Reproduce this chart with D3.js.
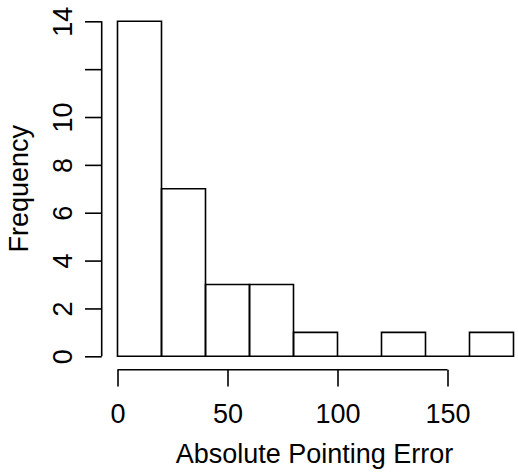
<!DOCTYPE html>
<html>
<head>
<meta charset="utf-8">
<script src="https://cdn.jsdelivr.net/npm/d3@7"></script>
<style>
  body { margin: 0; background: #fff; }
  svg text { font-family: "Liberation Sans", Arial, Helvetica, sans-serif; fill: #000; }
</style>
</head>
<body>
<div id="chart"></div>
<script>
// histogram bins (lower edge, upper edge) and counts
var binStart = [0, 20, 40, 60, 80, 100, 120, 140, 160];
var binEnd = [20, 40, 60, 80, 100, 120, 140, 160, 180];
var counts = [14, 7, 3, 3, 1, 0, 1, 0, 1];
var xTicks = [0, 50, 100, 150];
var yTicks = [0, 2, 4, 6, 8, 10, 12, 14];
var yTickLabels = ["0", "2", "4", "6", "8", "10", "", "14"]; // R drops "12" (overlap)

var W = 518, H = 472, fs = 27;

var svg = d3.select("#chart").append("svg")
    .attr("width", W)
    .attr("height", H);

var x = d3.scaleLinear().domain([0, 180]).range([117.5, 513.5]);
var y = d3.scaleLinear().domain([0, 14]).range([356.3, 21.3]);

var plotLeft = 101.7, plotBottom = 369.7;

// bars as closed paths so empty bins still show a line on the baseline
svg.append("g")
    .selectAll("path")
    .data(counts)
    .enter().append("path")
    .attr("d", function(d, i) {
        var p = d3.path();
        p.moveTo(x(binStart[i]), y(0));
        p.lineTo(x(binStart[i]), y(d));
        p.lineTo(x(binEnd[i]), y(d));
        p.lineTo(x(binEnd[i]), y(0));
        p.closePath();
        return p.toString();
    })
    .attr("fill", "none")
    .attr("stroke", "#000")
    .attr("stroke-width", 1.6);

// x axis
var xAxis = d3.axisBottom(x).tickValues(xTicks).tickSize(16.7).tickPadding(18).tickSizeOuter(0);
var gx = svg.append("g")
    .attr("transform", "translate(0," + plotBottom + ")")
    .call(xAxis);
gx.select(".domain").remove();
gx.append("line")
    .attr("x1", x(xTicks[0])).attr("x2", x(xTicks[xTicks.length - 1]))
    .attr("stroke", "#000").attr("stroke-width", 1.6);
gx.selectAll(".tick line").attr("stroke", "#000").attr("stroke-width", 1.6);
gx.selectAll(".tick text")
    .attr("font-size", fs).attr("font-family", null).attr("fill", "#000")
    .attr("dy", null)
    .attr("y", 423 - plotBottom);

// y axis
var yAxis = d3.axisLeft(y).tickValues(yTicks).tickSize(16.7).tickSizeOuter(0)
    .tickFormat(function(d, i) { return yTickLabels[i]; });
var gy = svg.append("g")
    .attr("transform", "translate(" + plotLeft + ",0)")
    .call(yAxis);
gy.select(".domain").remove();
gy.append("line")
    .attr("y1", y(yTicks[0])).attr("y2", y(yTicks[yTicks.length - 1]))
    .attr("stroke", "#000").attr("stroke-width", 1.6);
gy.selectAll(".tick line").attr("stroke", "#000").attr("stroke-width", 1.6);
gy.selectAll(".tick text")
    .attr("font-size", fs).attr("font-family", null).attr("fill", "#000")
    .attr("x", null).attr("dy", null)
    .attr("text-anchor", "middle")
    .attr("transform", "translate(" + (72 - plotLeft) + ",0) rotate(-90)");

// axis titles
svg.append("text")
    .attr("x", x(90) - 1)
    .attr("y", 463)
    .attr("text-anchor", "middle")
    .attr("font-size", fs)
    .text("Absolute Pointing Error");

svg.append("text")
    .attr("transform", "translate(28.3," + y(7) + ") rotate(-90)")
    .attr("text-anchor", "middle")
    .attr("font-size", fs)
    .text("Frequency");
</script>
</body>
</html>
